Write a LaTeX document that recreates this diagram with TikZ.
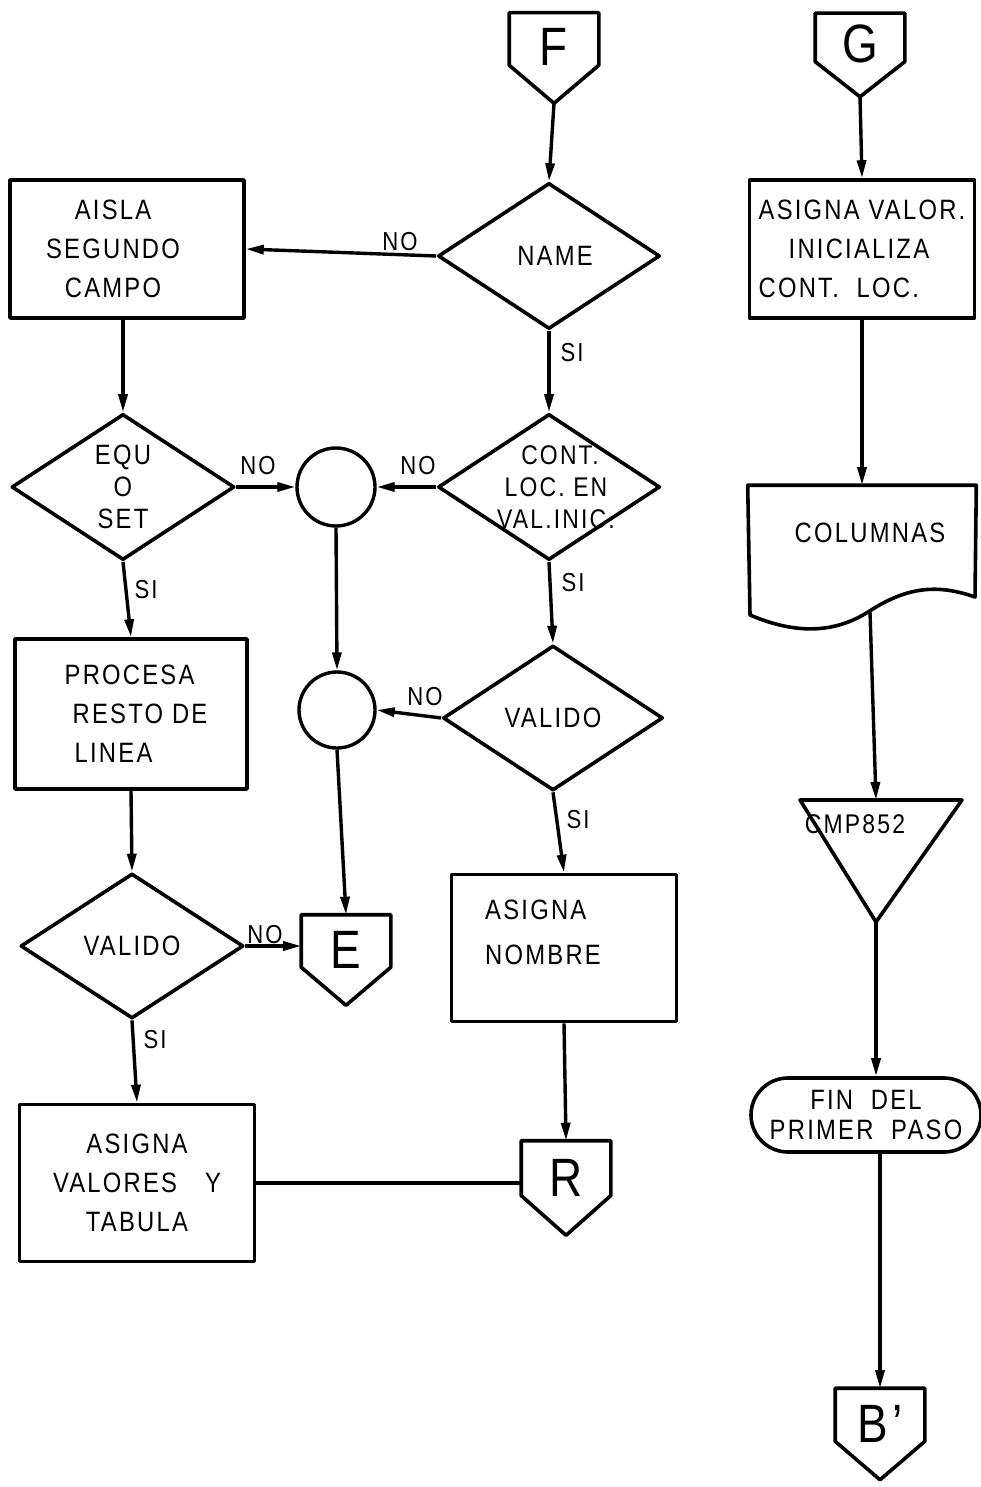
\documentclass[tikz,border=0pt]{standalone}
\usepackage{fontspec}
\setmainfont{Liberation Sans}[FakeStretch=0.85,LetterSpace=8]
\usetikzlibrary{arrows.meta,shapes.geometric,calc}
\newcommand\boxfont{\fontsize{28}{39}\selectfont}
\newcommand\decfont{\fontsize{28}{32}\selectfont}
\newcommand\lblfont{\fontsize{26}{26}\selectfont}
\newcommand\conFont{\fontsize{54}{54}\selectfont}
\newcommand\offpg[1]{\draw[outline] (#1.north west) -- (#1.north east) -- ($(#1.north east)!0.58!(#1.south east)$) -- (#1.south) -- ($(#1.north west)!0.58!(#1.south west)$) -- cycle;}
\begin{document}
\begin{tikzpicture}[x=1pt,y=-1pt,line width=3.6pt,line join=round,
 outline/.style={draw,line width=3.6pt},
 flow/.style={draw,line width=3.4pt,-{Triangle[length=18pt,width=9pt]}},
 plain/.style={draw,line width=3.4pt},
 box/.style={draw,rectangle,line width=3.6pt,inner sep=0pt,font=\boxfont,align=center},
 dec/.style={draw,diamond,line width=3.6pt,inner sep=0pt,font=\decfont,align=center},
 junc/.style={draw,circle,line width=3.4pt,inner sep=0pt,minimum size=78pt},
 offp/.style={inner sep=0pt,minimum width=86pt,minimum height=87pt,font=\conFont,text height=38pt,text depth=22pt},
 lbl/.style={inner sep=0pt,font=\lblfont},
 txt/.style={inner sep=0pt,font=\boxfont,align=left},
 term/.style={draw,rectangle,line width=3.6pt,rounded corners=37pt,inner sep=0pt,minimum width=230pt,minimum height=74pt,font=\fontsize{28}{30}\selectfont,align=center}]
\useasboundingbox (0,0) rectangle (981,1487);

% left and middle columns
\node[offp] (F) at (554,58) {F};
\offpg{F}
\node[dec,minimum width=222pt,minimum height=146pt] (name) at (549,256) {\kern12pt NAME};
\node[box,minimum width=234pt,minimum height=138pt] (aisla) at (127,249) {AISLA\kern28pt\\SEGUNDO\kern28pt\\CAMPO\kern28pt};
\node[dec,minimum width=223pt,minimum height=146pt] (equ) at (123,487) {EQU\\O\\SET};
\node[junc] (c1) at (336,487) {};
\node[dec,minimum width=222pt,minimum height=146pt] (cont) at (549,487) {};
\node[inner sep=0pt,font=\fontsize{27}{32}\selectfont,align=center] (conttxt) at (556,487) {\kern8pt CONT.\\LOC. EN\\VAL.INIC.};
\node[box,minimum width=232pt,minimum height=150pt,align=left] (proc) at (131,714) {\kern10pt PROCESA\\\kern18pt RESTO DE\\\kern20pt LINEA};
\node[junc,minimum size=76pt] (c2) at (337,710) {};
\node[dec,minimum width=220pt,minimum height=145pt] (val2) at (553,718) {VALIDO};
\node[dec,minimum width=223pt,minimum height=145pt] (val1) at (132,946) {VALIDO};
\node[offp] (E) at (346,960) {E};
\offpg{E}
\node[box,minimum width=225pt,minimum height=147pt] (nombre) at (564,948) {};
\node[txt,font=\fontsize{28}{45}\selectfont] (nombretxt) at (543,932) {ASIGNA\\NOMBRE};
\node[box,minimum width=235pt,minimum height=157pt] (valores) at (137,1183) {ASIGNA\\VALORES\quad Y\\TABULA};
\node[offp,minimum height=91pt] (R) at (566,1188) {R};
\offpg{R}

% right column
\node[offp,minimum height=80pt] (G) at (860,55) {G};
\offpg{G}
\node[box,minimum width=225pt,minimum height=138pt,align=left] (avalor) at (862,249) {ASIGNA VALOR.\\\kern30pt INICIALIZA\\CONT.\ \ LOC.};
\node[inner sep=0pt,minimum width=225pt,minimum height=140pt] (col) at (862,557) {};
\draw[outline] (col.north west) -- (col.north east) -- (975,597) .. controls (935,583) and (905,588) .. (868,612) .. controls (830,636) and (790,632) .. (750,615) -- cycle;
\node[txt] (coltxt) at (870,533) {COLUMNAS};
\coordinate (colb) at (870,612);
\coordinate (cmpT) at (876,800);
\coordinate (cmpB) at (876,922);
\draw[outline] (800,800) -- (962,800) -- (cmpB) -- cycle;
\node[lbl,font=\fontsize{27}{27}\selectfont] (cmptxt) at (855,824) {CMP852};
\node[term] (fin) at (866,1115) {FIN\ \ DEL\\PRIMER\ \ PASO};
\node[offp,minimum height=88pt] (bp) at (880,1434) {B’};
\offpg{bp}

% connectors
\draw[flow] (F.south) -- (name.north);
\draw[flow] (name.west) -- (aisla.east);
\draw[flow] (aisla.south -| equ.north) -- (equ.north);
\draw[flow] (equ.east) -- (c1.west);
\draw[flow] (cont.west) -- (c1.east);
\draw[flow] (name.south) -- (cont.north);
\draw[flow] (equ.south) -- (proc.north);
\draw[flow] (cont.south) -- (val2.north);
\draw[flow] (c1.south) -- (c2.north);
\draw[flow] (val2.west) -- (c2.east);
\draw[flow] (c2.south) -- (E.north);
\draw[flow] (proc.south) -- (val1.north);
\draw[flow] (val1.east) -- (val1.east -| E.west);
\draw[flow] (val2.south) -- (nombre.north);
\draw[flow] (val1.south) -- (valores.north);
\draw[flow] (nombre.south) -- (R.north);
\draw[plain] (valores.east) -- (valores.east -| R.west);
\draw[flow] (G.south) -- (avalor.north);
\draw[flow] (avalor.south) -- (col.north);
\draw[flow] (colb) -- (cmpT);
\draw[flow] (cmpB) -- (cmpB |- fin.north);
\draw[flow] (fin.south -| bp.north) -- (bp.north);

% labels
\node[lbl] (no1) at (400,242) {NO};
\node[lbl] (si1) at (572,353) {SI};
\node[lbl] (no2) at (258,466) {NO};
\node[lbl] (no3) at (418,466) {NO};
\node[lbl] (si2) at (146,590) {SI};
\node[lbl] (si3) at (573,583) {SI};
\node[lbl] (no4) at (425,697) {NO};
\node[lbl] (si4) at (578,820) {SI};
\node[lbl] (no5) at (265,935) {NO};
\node[lbl] (si5) at (155,1040) {SI};
\end{tikzpicture}
\end{document}
